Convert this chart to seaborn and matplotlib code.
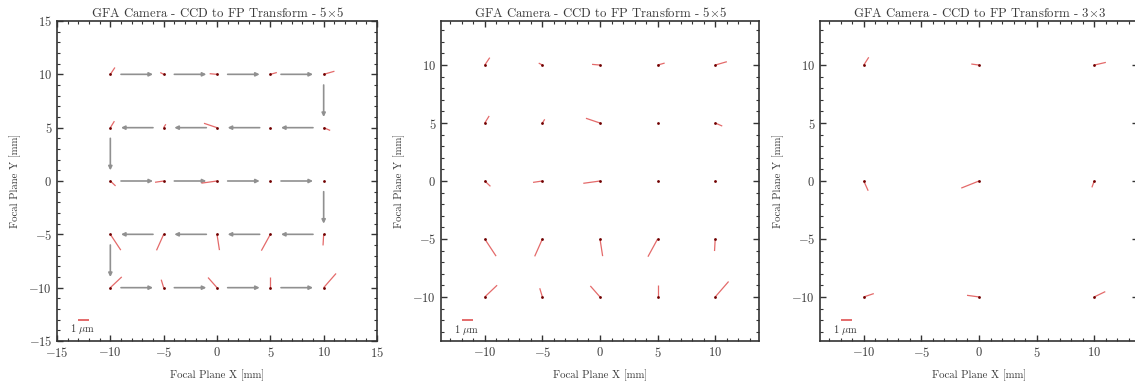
import numpy as np
import matplotlib
matplotlib.use("Agg")
import matplotlib.pyplot as plt
import seaborn as sns
import pandas as pd
from matplotlib.ticker import MultipleLocator

# ---------------- data ----------------
grid5 = [-10, -5, 0, 5, 10]
rows5 = [10, 5, 0, -5, -10]
# residual vectors (1 um drawn as 1 mm), rows top->bottom, columns left->right
dx5 = [[0.43, -0.32, -0.69, 0.61, 1.01],
       [0.38, 0.20, -1.22, 0.05, 0.61],
       [0.49, -0.81, -1.45, 0.10, 0.05],
       [0.98, -0.67, 0.23, -0.84, -0.06],
       [1.07, -0.23, -0.84, 0.00, 1.16]]
dy5 = [[0.64, 0.17, 0.06, 0.17, 0.29],
       [0.61, 0.32, 0.41, 0.00, -0.26],
       [-0.46, -0.12, -0.20, 0.00, 0.00],
       [-1.48, -1.50, -1.48, -1.53, -1.04],
       [1.01, 0.75, 0.95, 1.04, 1.33]]

grid3 = [-10, 0, 10]
rows3 = [10, 0, -10]
dx3 = [[0.43, -0.67, 1.01],
       [0.38, -1.54, -0.20],
       [0.87, -1.04, 0.96]]
dy3 = [[0.67, 0.09, 0.23],
       [-0.84, -0.61, -0.55],
       [0.29, 0.14, 0.46]]

titles = ["GFA Camera - CCD to FP Transform - 5$\\times$5",
          "GFA Camera - CCD to FP Transform - 5$\\times$5",
          "GFA Camera - CCD to FP Transform - 3$\\times$3"]
xlabel = "Focal Plane X [mm]"
ylabel = "Focal Plane Y [mm]"
scale_label = "1 $\\mu$m"

# ---------------- style ----------------
sns.set_theme(style="ticks")
plt.rcParams['font.family'] = ['cmr10', 'DejaVu Serif']
plt.rcParams['mathtext.fontset'] = 'cm'
plt.rcParams['axes.formatter.use_mathtext'] = True
plt.rcParams['axes.unicode_minus'] = True

TEXT = "#3a3a3a"
SPINE = "#333333"
SEG = "#e46a6a"
DOT = "#700000"
ARROW = "#909090"


def make_df(grid, rows, dx, dy):
    recs = []
    for i, y in enumerate(rows):
        for j, x in enumerate(grid):
            recs.append(dict(x=x, y=y, dx=dx[i][j], dy=dy[i][j]))
    return pd.DataFrame(recs)


def style_axes(ax, lim, major, title):
    ax.set_xlim(-lim, lim)
    ax.set_ylim(-lim, lim)
    ax.xaxis.set_major_locator(MultipleLocator(major))
    ax.yaxis.set_major_locator(MultipleLocator(major))
    ax.xaxis.set_minor_locator(MultipleLocator(1))
    ax.yaxis.set_minor_locator(MultipleLocator(1))
    ax.tick_params(which='both', direction='in', top=True, right=True,
                   colors=SPINE, labelcolor=TEXT, labelsize=9)
    ax.tick_params(which='major', length=4, width=1.0)
    ax.tick_params(which='minor', length=2, width=0.8)
    for s in ax.spines.values():
        s.set_visible(True)
        s.set_color(SPINE)
        s.set_linewidth(1.2)
    ax.set_xlabel(xlabel, fontsize=7.8, color=TEXT, labelpad=7)
    ax.set_ylabel(ylabel, fontsize=7.8, color=TEXT, labelpad=5)
    ax.set_title(title, fontsize=9.2, color=TEXT, pad=3)


def draw_vectors(ax, df):
    for _, r in df.iterrows():
        ax.plot([r.x, r.x + r.dx], [r.y, r.y + r.dy], color=SEG, lw=0.9,
                solid_capstyle='butt', zorder=2)
    sns.scatterplot(data=df, x='x', y='y', ax=ax, color=DOT, s=4,
                    linewidth=0, zorder=3, legend=False)


def draw_scale(ax, x0, y0):
    ax.plot([x0, x0 + 1], [y0, y0], color=SEG, lw=1.4, solid_capstyle='butt')
    ax.text(x0 + 0.45, y0 - 0.85, scale_label, ha='center', va='center',
            fontsize=7.5, color=TEXT)


fig = plt.figure(figsize=(11.35, 3.81), dpi=100)
W, H = 1135.0, 381.0
pos = [(57, 21, 320, 320), (441, 21, 318, 320), (820, 21, 318, 320)]
axes = []
for (l, t, w, h) in pos:
    ax = fig.add_axes([l / W, (H - t - h) / H, w / W, h / H])
    axes.append(ax)

df5 = make_df(grid5, rows5, dx5, dy5)
df3 = make_df(grid3, rows3, dx3, dy3)

# Panel 1: with serpentine scan path
ax = axes[0]
style_axes(ax, 15, 5, titles[0])
path = []
for i, y in enumerate(rows5):
    xs = grid5 if i % 2 == 0 else grid5[::-1]
    for x in xs:
        path.append((x, y))
for (x0, y0), (x1, y1) in zip(path[:-1], path[1:]):
    sx, sy = x0 + 0.2 * (x1 - x0), y0 + 0.2 * (y1 - y0)
    ex, ey = x0 + 0.8 * (x1 - x0), y0 + 0.8 * (y1 - y0)
    ax.annotate("", xy=(ex, ey), xytext=(sx, sy),
                arrowprops=dict(arrowstyle='-|>', color=ARROW, lw=1.2,
                                mutation_scale=5.5, shrinkA=0, shrinkB=0),
                zorder=1)
draw_vectors(ax, df5)
draw_scale(ax, -13, -13)

# Panel 2
ax = axes[1]
style_axes(ax, 13.8, 5, titles[1])
draw_vectors(ax, df5)
draw_scale(ax, -12, -12)

# Panel 3
ax = axes[2]
style_axes(ax, 13.8, 5, titles[2])
draw_vectors(ax, df3)
draw_scale(ax, -12, -12)

fig.savefig("out.png", dpi=100, facecolor="white")
